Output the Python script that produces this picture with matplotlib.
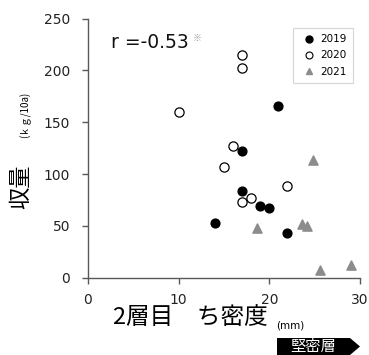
import matplotlib
matplotlib.use("Agg")
import matplotlib.pyplot as plt
from matplotlib.patches import Polygon
from matplotlib.lines import Line2D

plt.rcParams['font.family'] = ['DejaVu Sans', 'Noto Sans CJK JP']

# Data
x2019 = [21.0, 17.0, 17.0, 19.0, 20.0, 14.0, 22.0]
y2019 = [166, 122, 84, 69, 67, 53, 43]
x2020 = [17.0, 17.0, 10.0, 16.0, 15.0, 22.0, 18.0, 17.0]
y2020 = [215, 202, 160, 127, 107, 88, 77, 73]
x2021 = [24.8, 18.6, 23.6, 24.2, 25.6, 29.0]
y2021 = [114, 48, 52, 50, 7, 12]
xticks = [0, 10, 20, 30]
yticks = [0, 50, 100, 150, 200, 250]

W, H = 369, 355
fig = plt.figure(figsize=(W / 100, H / 100), dpi=100)
ax = fig.add_axes([88 / W, 1 - 277.7 / H, (360 - 88) / W, (277.7 - 18.5) / H])

ax.scatter(x2019, y2019, s=40, c='black', marker='o', zorder=3, label='2019')
ax.scatter(x2020, y2020, s=44, facecolors='white', edgecolors='black', linewidths=0.9,
           marker='o', zorder=3, label='2020')
ax.scatter(x2021, y2021, s=44, c='#8c8c8c', marker='^', zorder=3, label='2021')

ax.set_xlim(0, 30)
ax.set_ylim(0, 250)
ax.set_xticks(xticks)
ax.set_yticks(yticks)
for s in ['top', 'right']:
    ax.spines[s].set_visible(False)
for s in ['left', 'bottom']:
    ax.spines[s].set_color('#595959')
    ax.spines[s].set_linewidth(1.0)
ax.tick_params(direction='out', length=4, width=1.0, color='#595959',
               labelsize=10, labelcolor='#222222')
ax.tick_params(axis='y', pad=9)
ax.tick_params(axis='x', pad=7)

handles = [
    Line2D([], [], marker='o', ls='', color='black', markersize=5),
    Line2D([], [], marker='o', ls='', markerfacecolor='white', markeredgecolor='black',
           markersize=5, markeredgewidth=0.8),
    Line2D([], [], marker='^', ls='', color='#8c8c8c', markersize=5),
]
leg = ax.legend(handles, ['2019', '2020', '2021'], loc='upper left',
                bbox_to_anchor=((293 - 88) / 272, 1 - (28 - 18.5) / 259.2),
                fontsize=7.5, frameon=True, fancybox=False, handlelength=1.9,
                handletextpad=0.1, borderpad=0.6, labelspacing=0.6,
                borderaxespad=0)
leg.get_frame().set_edgecolor('#cccccc')
leg.get_frame().set_linewidth(0.8)

# correlation text
fig.text(111 / W, 1 - 42 / H, 'r =-0.53', fontsize=13.5, ha='left', va='center', color='#111111')
fig.text(193 / W, 1 - 38 / H, '※', fontsize=6.5, ha='left', va='center', color='#999999',
         family=['Noto Sans CJK JP', 'DejaVu Sans'])

# y label
fig.text(21 / W, 1 - 187 / H, '収量', fontsize=16, rotation=90, ha='center', va='center',
         family=['Noto Sans CJK JP', 'DejaVu Sans'])
fig.text(25 / W, 1 - 115 / H, '(ｋｇ/10a)', fontsize=7, rotation=90, ha='center', va='center',
         family=['Noto Sans CJK JP', 'DejaVu Sans'])

# x label
fig.text(190 / W, 1 - 318 / H, '2層目\u3000ち密度', fontsize=17, ha='center', va='center',
         family=['Noto Sans CJK JP', 'DejaVu Sans'])
fig.text(290 / W, 1 - 325 / H, '(mm)', fontsize=7.5, ha='center', va='center',
         family=['DejaVu Sans'])

# arrow box
pts = [(277, 338), (350, 338), (360, 346.5), (350, 355), (277, 355)]
poly = Polygon([(px / W, 1 - py / H) for px, py in pts], closed=True,
               transform=fig.transFigure, facecolor='black', edgecolor='none')
fig.patches.append(poly)
fig.text(313 / W, 1 - 346.5 / H, '堅密層', fontsize=11, ha='center', va='center',
         color='white', family=['Noto Sans CJK JP', 'DejaVu Sans'])

fig.savefig('out.png', dpi=100)
